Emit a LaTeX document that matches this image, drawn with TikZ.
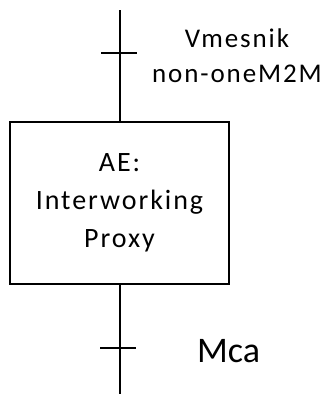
\documentclass[tikz,border=0pt]{standalone}
\usepackage{fontspec}
\setmainfont{Carlito}
\newfontfamily\spacedfont[LetterSpace=7]{Carlito}
\begin{document}
\begin{tikzpicture}[x=1pt,y=-1pt,
  wire/.style={line width=2pt},
  proxybox/.style={draw,line width=2pt,minimum width=219pt,minimum height=162pt,
    inner sep=0pt,align=center,font=\spacedfont\fontsize{28}{38}\selectfont},
  lbl/.style={anchor=base,inner sep=0pt,font=\spacedfont\fontsize{27}{35}\selectfont},
  biglbl/.style={anchor=base west,inner sep=0pt,font=\fontsize{36}{40}\selectfont}]
  \useasboundingbox (0,0) rectangle (322,394);
  % interworking proxy box
  \node[proxybox] (ipe) at (119.5,203) {AE:\\Interworking\\Proxy};
  % open ends of the interfaces
  \coordinate (topend) at (119.5,10);
  \coordinate (botend) at (119.5,394);
  \draw[wire] (topend) -- (ipe.north);
  \draw[wire] (ipe.south) -- (botend);
  % reference point ticks
  \coordinate (t1l) at (101,53);
  \coordinate (t1r) at (137,53);
  \coordinate (t2l) at (100,348);
  \coordinate (t2r) at (136,348);
  \draw[wire] (t1l) -- (t1r);
  \draw[wire] (t2l) -- (t2r);
  % labels
  \node[lbl] (v1) at (237,47) {Vmesnik};
  \node[lbl] (v2) at (237,82) {non-oneM2M};
  \node[biglbl] (mca) at (197,362) {Mca};
\end{tikzpicture}
\end{document}
